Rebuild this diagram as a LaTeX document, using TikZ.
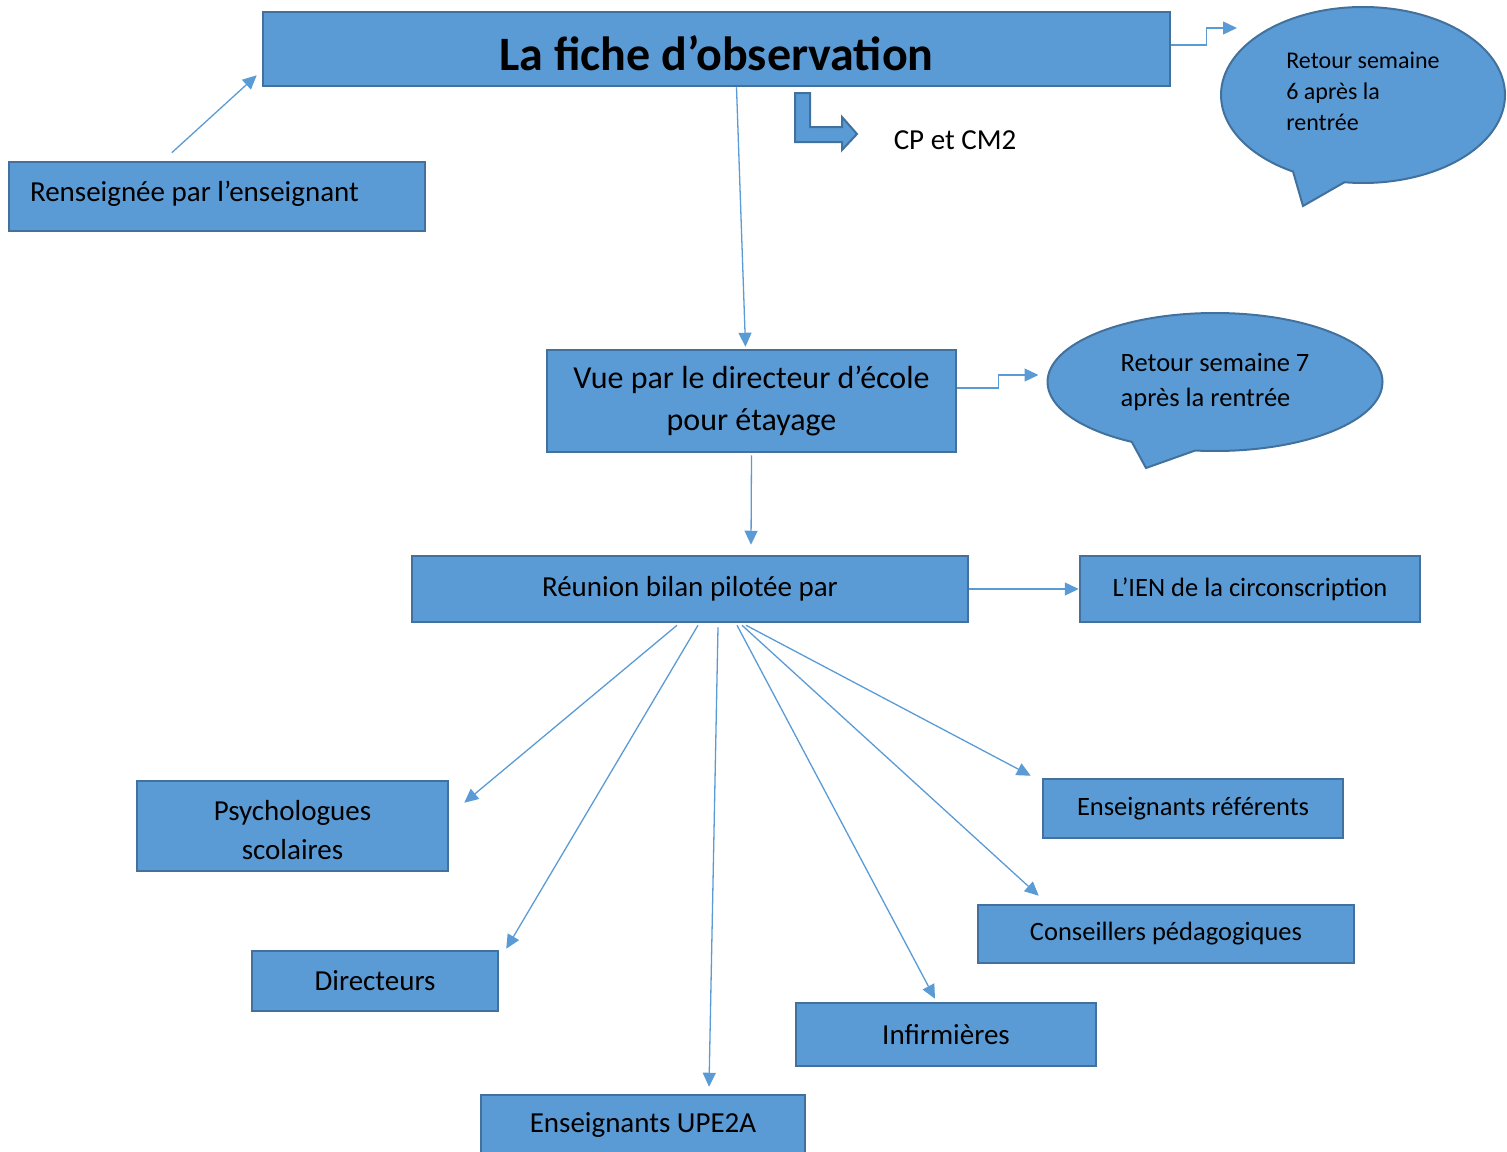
\documentclass[tikz,border=0pt]{standalone}
\usepackage{fontspec}
\setmainfont{Carlito}
\usetikzlibrary{shapes.callouts, arrows.meta}
\definecolor{bleu}{HTML}{5B9BD5}
\definecolor{bord}{HTML}{41719C}
\tikzset{boite/.style={draw=bord, fill=bleu, line width=2.5pt, inner sep=0pt, align=center, font=\fontsize{29}{39}\selectfont},
         bulle/.style={ellipse callout, draw=bord, fill=bleu, line width=2pt, inner sep=0pt, align=left},
         fleche/.style={draw=bleu, line width=1.3pt, -{Triangle[length=14pt,width=13pt]}},
        }

\begin{document}
\begin{tikzpicture}[x=1pt,y=-1pt]
        \useasboundingbox (0,0) rectangle (1507,1151);

        \node[boite, minimum width=907, minimum height=74, font=\fontsize{48}{56}\selectfont\bfseries](titre)at(716.5,49){\raisebox{-4pt}[\height][\depth]{La fiche d’observation}};
        \node[boite, minimum width=416, minimum height=69](renseigne)at(217,196.5){\raisebox{3pt}[\height][\depth]{\makebox[374pt][l]{Renseignée par l’enseignant}}};
        \draw[fleche]([xshift=164pt,yshift=8pt]renseigne.north west)--([xshift=-5pt,yshift=12pt]titre.south west);

        \draw[draw=bord, fill=bleu, line width=2pt](795,93)--(810,93)--(810,127)--(842,127)--(842,117)--(857,134)--(842,150)--(842,142)--(795,142)--cycle;
        \node[font=\fontsize{29}{35}\selectfont](cp)at(955,140){CP et CM2};

        \node[bulle, minimum width=284, minimum height=176, callout absolute pointer={(1303,206)}, callout pointer arc=22, text depth=8pt, font=\fontsize{24}{31}\selectfont](bulle1)at(1363,95){Retour semaine\\6 après la\\rentrée};
        \draw[fleche]([yshift=4pt]titre.east)--++(35,0)|-([xshift=-126pt,yshift=67pt]bulle1.center);

        \node[boite, minimum width=409, minimum height=102, font=\fontsize{32}{42}\selectfont](vue)at(751.5,401){Vue par le directeur d’école\\pour étayage};
        \draw[fleche]([xshift=20pt]titre.south)--([xshift=-6pt,yshift=2pt]vue.north);

        \node[bulle, minimum width=335, minimum height=138, callout absolute pointer={(1146,468)}, callout pointer arc=23, font=\fontsize{26.5}{35}\selectfont](bulle2)at(1215,382){Retour semaine 7\\après la rentrée};
        \draw[fleche]([yshift=13pt]vue.east)--++(41,0)|-([xshift=-8pt,yshift=7pt]bulle2.west);

        \node[boite, minimum width=556, minimum height=66](reunion)at(690,589){Réunion bilan pilotée par};
        \draw[fleche]([yshift=-2pt]vue.south)--([xshift=61pt,yshift=10pt]reunion.north);
        \node[boite, minimum width=340, minimum height=66, font=\fontsize{26.5}{32}\selectfont](ien)at(1250,589){L’IEN de la circonscription};
        \draw[fleche](reunion.east)--(ien.west);

        \node[boite, minimum width=311, minimum height=90](psy)at(292.5,826){\raisebox{-4pt}[\height][\depth]{\shortstack{Psychologues\\[11pt]scolaires}}};
        \node[boite, minimum width=246, minimum height=60](dir)at(375,981){Directeurs};
        \node[boite, minimum width=324, minimum height=60](upe)at(643,1125){Enseignants UPE2A};
        \node[boite, minimum width=300, minimum height=63](inf)at(946,1034.5){Infirmières};
        \node[boite, minimum width=376, minimum height=58, font=\fontsize{26.5}{32}\selectfont](cons)at(1166,934){Conseillers pédagogiques};
        \node[boite, minimum width=300, minimum height=59, font=\fontsize{26.5}{32}\selectfont](ref)at(1193,808.5){Enseignants référents};

        \draw[fleche]([xshift=-13pt,yshift=-2pt]reunion.south)--([xshift=15pt,yshift=-23pt]psy.north east);
        \draw[fleche]([xshift=8pt,yshift=-2pt]reunion.south)--([xshift=7pt,yshift=1pt]dir.north east);
        \draw[fleche]([xshift=28pt,yshift=-4pt]reunion.south)--([xshift=66pt,yshift=7pt]upe.north);
        \draw[fleche]([xshift=47pt,yshift=-2pt]reunion.south)--([xshift=-11pt,yshift=3pt]inf.north);
        \draw[fleche]([xshift=52pt,yshift=-2pt]reunion.south)--([xshift=62pt,yshift=8pt]cons.north west);
        \draw[fleche]([xshift=56pt,yshift=-2pt]reunion.south)--([xshift=-11pt,yshift=2pt]ref.north west);
    \end{tikzpicture}
\end{document}
